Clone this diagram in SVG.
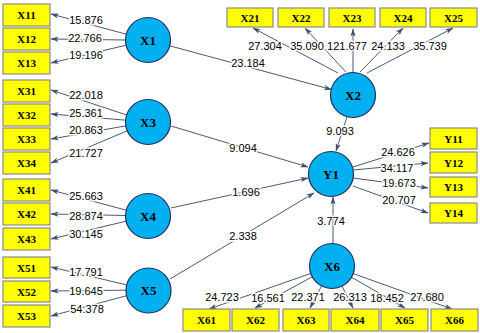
<svg xmlns="http://www.w3.org/2000/svg" width="480" height="333" viewBox="0 0 480 333">
<defs>
<marker id="ah" markerWidth="8" markerHeight="6" refX="7.5" refY="3" orient="auto" markerUnits="userSpaceOnUse">
<path d="M0,0.4 L8,3 L0,5.6 L2,3 Z" fill="#3E4F6E"/>
</marker>
<style>
.box rect{fill:#FFFF00;stroke:#8C8C8C;stroke-width:1.2}
.box text{font-family:"Liberation Serif",serif;font-weight:bold;font-size:11px;text-anchor:middle;fill:#000}
.lv circle{fill:#00B0F0;stroke:#1F3358;stroke-width:1.2}
.lv text{font-family:"Liberation Serif",serif;font-weight:bold;font-size:13px;text-anchor:middle;fill:#000}
#connectors line{stroke:#4A5A78;stroke-width:1;marker-end:url(#ah)}
#labels text{font-family:"Liberation Sans",Arial,sans-serif;font-size:11px;text-anchor:middle;fill:#000;stroke:#FFFFFF;stroke-width:3;paint-order:stroke;stroke-linejoin:round}
</style>
</defs>
<rect width="480" height="333" fill="#FFFFFF"/>
<g id="connectors">
<line x1="126.7" y1="34.3" x2="51" y2="14"/>
<line x1="126" y1="40" x2="51" y2="39"/>
<line x1="126.6" y1="45.1" x2="51" y2="63"/>
<line x1="169.2" y1="45.7" x2="331.5" y2="89.5"/>
<line x1="127.1" y1="115.1" x2="51" y2="90"/>
<line x1="126.1" y1="120.2" x2="51" y2="114"/>
<line x1="126.3" y1="125.8" x2="51" y2="139"/>
<line x1="127.7" y1="130.6" x2="51" y2="163"/>
<line x1="171" y1="126" x2="308" y2="167"/>
<line x1="126.7" y1="210.3" x2="51" y2="190"/>
<line x1="126" y1="215.5" x2="51" y2="214"/>
<line x1="126.6" y1="221.1" x2="51" y2="239"/>
<line x1="171" y1="208" x2="308" y2="178"/>
<line x1="126.6" y1="284.9" x2="51" y2="267"/>
<line x1="126" y1="290.2" x2="51" y2="291"/>
<line x1="126.7" y1="295.7" x2="51" y2="316"/>
<line x1="170" y1="279" x2="314" y2="193"/>
<line x1="338" y1="73" x2="253" y2="28"/>
<line x1="346" y1="72" x2="305" y2="28"/>
<line x1="353" y1="72" x2="353" y2="29"/>
<line x1="360" y1="72" x2="403" y2="28"/>
<line x1="367" y1="73" x2="453" y2="28"/>
<line x1="347" y1="117" x2="336" y2="151"/>
<line x1="333" y1="244" x2="333" y2="197"/>
<line x1="353" y1="167" x2="429" y2="143"/>
<line x1="353" y1="170" x2="428" y2="163"/>
<line x1="353" y1="178" x2="428" y2="188"/>
<line x1="353" y1="186" x2="428" y2="213"/>
<line x1="311.2" y1="273.3" x2="209" y2="309"/>
<line x1="312.7" y1="276.5" x2="255" y2="308"/>
<line x1="321.8" y1="285.5" x2="310" y2="308"/>
<line x1="341.8" y1="285.7" x2="353" y2="308"/>
<line x1="351.1" y1="277" x2="405" y2="308"/>
<line x1="352.7" y1="273.4" x2="452" y2="309"/>
</g>
<g id="labels">
<text x="86" y="24">15.876</text>
<text x="85" y="41.5">22.766</text>
<text x="86" y="59">19.196</text>
<text x="86" y="99">22.018</text>
<text x="86" y="117">25.361</text>
<text x="86" y="134">20.863</text>
<text x="86" y="157">21.727</text>
<text x="86" y="200">25.663</text>
<text x="86" y="220">28.874</text>
<text x="86" y="238">30.145</text>
<text x="86" y="276">17.791</text>
<text x="86" y="295">19.645</text>
<text x="87" y="313">54.378</text>
<text x="265" y="50">27.304</text>
<text x="307" y="50">35.090</text>
<text x="347" y="50">121.677</text>
<text x="388" y="50">24.133</text>
<text x="430" y="50">35.739</text>
<text x="248" y="66.5">23.184</text>
<text x="340" y="135">9.093</text>
<text x="243" y="152">9.094</text>
<text x="246" y="196">1.696</text>
<text x="243" y="240">2.338</text>
<text x="331" y="225">3.774</text>
<text x="398" y="156">24.626</text>
<text x="397" y="172">34.117</text>
<text x="399" y="187">19.673</text>
<text x="399" y="204">20.707</text>
<text x="222" y="301">24.723</text>
<text x="268" y="302">16.561</text>
<text x="308" y="301">22.371</text>
<text x="350" y="301">26.313</text>
<text x="387" y="302">18.452</text>
<text x="427" y="301">27.680</text>
</g>
<g id="X11" class="box"><rect x="3" y="4" width="47" height="22"/><text x="26.5" y="19">X11</text></g>
<g id="X12" class="box"><rect x="3" y="28" width="47" height="22"/><text x="26.5" y="43">X12</text></g>
<g id="X13" class="box"><rect x="3" y="52" width="47" height="22"/><text x="26.5" y="67">X13</text></g>
<g id="X31" class="box"><rect x="3" y="80" width="47" height="22"/><text x="26.5" y="95">X31</text></g>
<g id="X32" class="box"><rect x="3" y="104" width="47" height="22"/><text x="26.5" y="119">X32</text></g>
<g id="X33" class="box"><rect x="3" y="128" width="47" height="22"/><text x="26.5" y="143">X33</text></g>
<g id="X34" class="box"><rect x="3" y="152" width="47" height="22"/><text x="26.5" y="167">X34</text></g>
<g id="X41" class="box"><rect x="3" y="179" width="47" height="22"/><text x="26.5" y="194">X41</text></g>
<g id="X42" class="box"><rect x="3" y="203" width="47" height="22"/><text x="26.5" y="218">X42</text></g>
<g id="X43" class="box"><rect x="3" y="228" width="47" height="22"/><text x="26.5" y="243">X43</text></g>
<g id="X51" class="box"><rect x="3" y="257" width="47" height="21"/><text x="26.5" y="271.5">X51</text></g>
<g id="X52" class="box"><rect x="3" y="281" width="47" height="21"/><text x="26.5" y="295.5">X52</text></g>
<g id="X53" class="box"><rect x="3" y="305" width="47" height="22"/><text x="26.5" y="320">X53</text></g>
<g id="X21" class="box"><rect x="227" y="8" width="46" height="19"/><text x="250" y="21.5">X21</text></g>
<g id="X22" class="box"><rect x="278" y="8" width="46" height="19"/><text x="301" y="21.5">X22</text></g>
<g id="X23" class="box"><rect x="329" y="8" width="46" height="19"/><text x="352" y="21.5">X23</text></g>
<g id="X24" class="box"><rect x="380" y="8" width="46" height="19"/><text x="403" y="21.5">X24</text></g>
<g id="X25" class="box"><rect x="430" y="8" width="47" height="19"/><text x="453.5" y="21.5">X25</text></g>
<g id="Y11" class="box"><rect x="430" y="128" width="47" height="21"/><text x="453.5" y="142.5">Y11</text></g>
<g id="Y12" class="box"><rect x="430" y="152" width="47" height="21"/><text x="453.5" y="166.5">Y12</text></g>
<g id="Y13" class="box"><rect x="430" y="177" width="47" height="20"/><text x="453.5" y="191">Y13</text></g>
<g id="Y14" class="box"><rect x="430" y="203" width="47" height="20"/><text x="453.5" y="217">Y14</text></g>
<g id="X61" class="box"><rect x="183" y="309" width="47" height="22"/><text x="206.5" y="324">X61</text></g>
<g id="X62" class="box"><rect x="232" y="309" width="47" height="22"/><text x="255.5" y="324">X62</text></g>
<g id="X63" class="box"><rect x="283" y="309" width="46" height="22"/><text x="306" y="324">X63</text></g>
<g id="X64" class="box"><rect x="331" y="309" width="48" height="22"/><text x="355" y="324">X64</text></g>
<g id="X65" class="box"><rect x="381" y="309" width="47" height="22"/><text x="404.5" y="324">X65</text></g>
<g id="X66" class="box"><rect x="431" y="309" width="47" height="22"/><text x="454.5" y="324">X66</text></g>
<g id="X1" class="lv"><circle cx="148" cy="40" r="22.5"/><text x="148" y="44.5">X1</text></g>
<g id="X2" class="lv"><circle cx="353" cy="95" r="22.5"/><text x="353" y="99.5">X2</text></g>
<g id="X3" class="lv"><circle cx="148" cy="122" r="22.5"/><text x="148" y="126.5">X3</text></g>
<g id="X4" class="lv"><circle cx="148" cy="216" r="22.5"/><text x="148" y="220.5">X4</text></g>
<g id="X5" class="lv"><circle cx="148.5" cy="290.5" r="22.5"/><text x="148.5" y="295">X5</text></g>
<g id="Y1" class="lv"><circle cx="331" cy="174" r="22.5"/><text x="331" y="178.5">Y1</text></g>
<g id="X6" class="lv"><circle cx="332" cy="266" r="22.5"/><text x="332" y="270.5">X6</text></g>
</svg>
